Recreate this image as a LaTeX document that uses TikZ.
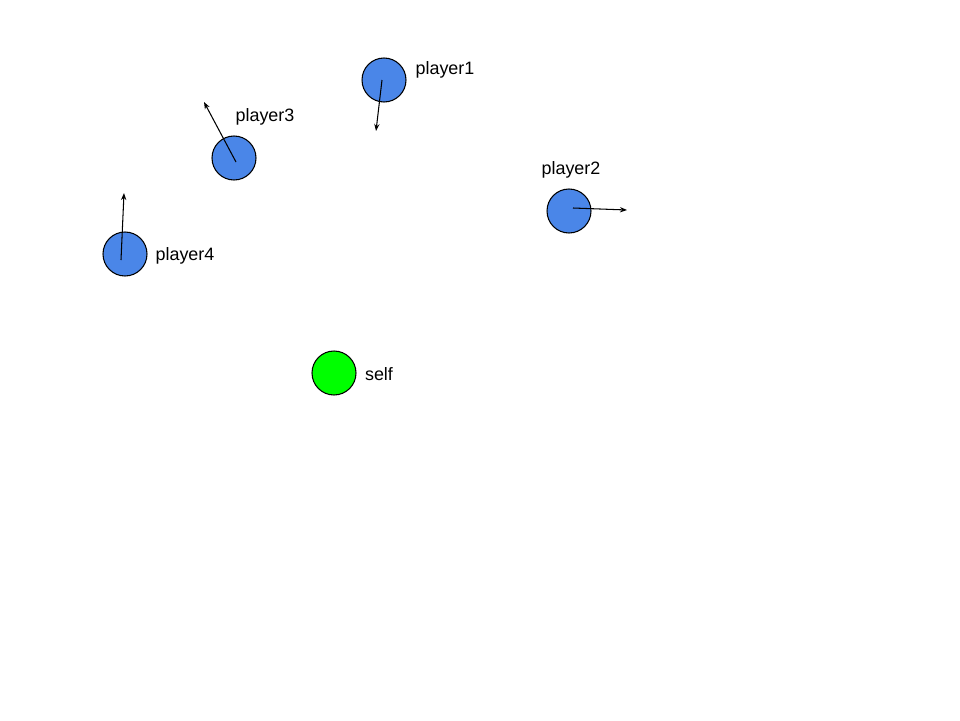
\documentclass[tikz,border=0pt]{standalone}
\usepackage{fontspec}
\setmainfont{Liberation Sans}
\usepackage{xcolor}
\usetikzlibrary{arrows.meta,positioning}
\definecolor{playerblue}{HTML}{4A86E8}
\definecolor{selfgreen}{HTML}{00FF00}
\tikzset{
    player/.style={circle,draw=black,line width=0.6pt,fill=playerblue,minimum size=44*0.02cm,inner sep=0pt},
    selfdot/.style={player,fill=selfgreen},
    heading/.style={-{Stealth[length=4pt,width=3pt]},line width=0.6pt},
    tag/.style={font=\fontsize{10.2}{12}\selectfont}
}

\begin{document}
\begin{tikzpicture}[x=0.02cm,y=-0.02cm]
    % Canvas
    \useasboundingbox (0,0) rectangle (960,720);

    % Players with their heading
    \foreach \name/\x/\y/\lx/\ly/\sx/\sy/\hx/\hy in {
        player1/384/80/445/70/-2/0/376/131,
        player3/234/158/265/117/2/4/204/102,
        player2/569/211/571/170/4/-3/627/210,
        player4/125/254/185/256/-4/6/124/193} {
        \node[player] (\name) at (\x,\y) {};
        \node[tag] (\name-tag) at (\lx,\ly) {\name};
        \coordinate (\name-dir) at (\hx,\hy);
        \draw[heading] ([shift={(\sx,\sy)}]\name.center) -- (\name-dir);
    }

    % Self
    \node[selfdot] (self) at (334,373) {};
    \node[tag] (self-tag) at (379,374) {self};
\end{tikzpicture}
\end{document}
